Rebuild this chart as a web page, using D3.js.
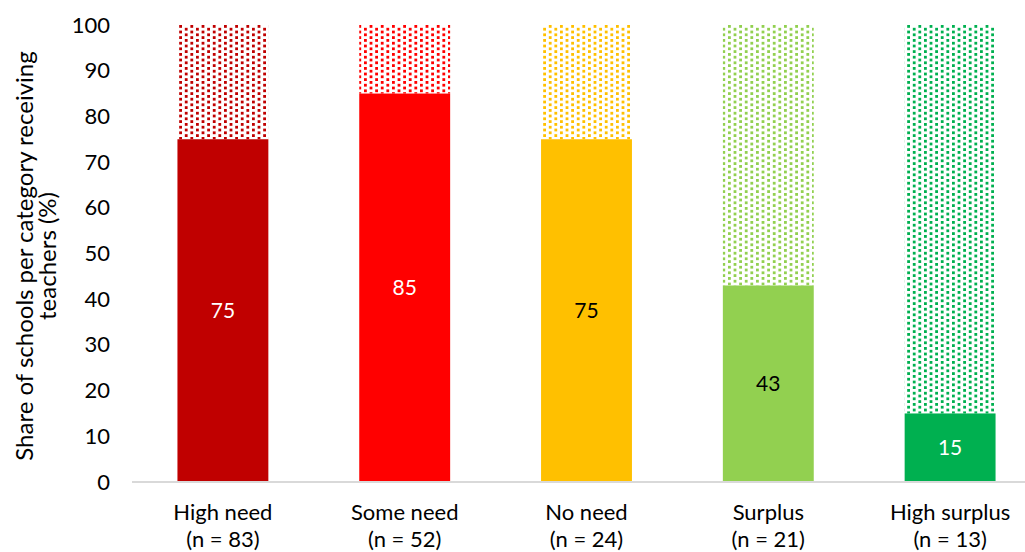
<!DOCTYPE html>
<html><head><meta charset="utf-8">
<script src="https://cdn.jsdelivr.net/npm/d3@7"></script>
<style>body{margin:0;background:#fff}svg{display:block}text{font-family:Lato,"Liberation Sans",sans-serif}</style>
</head><body>
<svg id="chart" width="1025" height="552"></svg>
<script>
const categories = ["High need","Some need","No need","Surplus","High surplus"];
const counts = ["(n = 83)","(n = 52)","(n = 24)","(n = 21)","(n = 13)"];
const values = [75, 85, 75, 43, 15];
const totals = [100, 100, 100, 100, 100];
const colors = ["#C00000","#FF0000","#FFC000","#92D050","#00B050"];
const labelColors = ["#ffffff","#ffffff","#000000","#000000","#ffffff"];
const yTicks = [0,10,20,30,40,50,60,70,80,90,100];

const svg = d3.select("#chart");
const x = d3.scaleBand().domain(categories).range([132, 1041]).paddingInner(0.5).paddingOuter(0.25);
const y = d3.scaleLinear().domain([0, 100]).range([482, 25]);

const defs = svg.append("defs");
colors.forEach((c, i) => {
  const p = defs.append("pattern").attr("id", "pat" + i)
    .attr("patternUnits", "userSpaceOnUse").attr("width", 11.2).attr("height", 5.6)
    .attr("x", 0).attr("y", 25);
  p.append("rect").attr("x", 0).attr("y", 0).attr("width", 2.8).attr("height", 2.8).attr("fill", c);
  p.append("rect").attr("x", 5.6).attr("y", 2.8).attr("width", 2.8).attr("height", 2.8).attr("fill", c);
});

const g = svg.append("g");
g.selectAll("rect.rest").data(categories).join("rect").attr("class","rest")
  .attr("x", d => x(d)).attr("width", x.bandwidth())
  .attr("y", (d,i) => y(totals[i])).attr("height", (d,i) => y(values[i]) - y(totals[i]))
  .attr("fill", (d,i) => `url(#pat${i})`);
g.selectAll("rect.val").data(categories).join("rect").attr("class","val")
  .attr("x", d => x(d)).attr("width", x.bandwidth())
  .attr("y", (d,i) => y(values[i])).attr("height", (d,i) => y(0) - y(values[i]))
  .attr("fill", (d,i) => colors[i]);
g.selectAll("text.val").data(categories).join("text").attr("class","val")
  .attr("x", d => x(d) + x.bandwidth()/2)
  .attr("y", (d,i) => y(values[i]/2)).attr("dy", "0.35em")
  .attr("text-anchor","middle").attr("font-size", 21)
  .attr("fill", (d,i) => labelColors[i]).text((d,i) => values[i]);

const yAxis = d3.axisLeft(y).tickValues(yTicks).tickSize(0).tickPadding(0);
const ya = svg.append("g").attr("transform","translate(110,0)").call(yAxis);
ya.select(".domain").remove();
ya.selectAll("text").attr("font-size", 22).attr("fill","#000").attr("font-family","Lato");

const xAxis = d3.axisBottom(x).tickSize(0).tickFormat("");
const xa = svg.append("g").attr("transform",`translate(0,${y(0)})`).call(xAxis);
xa.select(".domain").attr("stroke","#d9d9d9").attr("stroke-width",2).attr("d", `M132,0H1041`);
const lab = svg.append("g");
categories.forEach((c,i) => {
  const t = lab.append("text").attr("text-anchor","middle").attr("font-size",22).attr("fill","#000")
    .attr("x", x(c) + x.bandwidth()/2);
  t.append("tspan").attr("x", x(c) + x.bandwidth()/2).attr("y", 520).text(c);
  t.append("tspan").attr("x", x(c) + x.bandwidth()/2).attr("y", 547).text(counts[i]);
});

const yt = svg.append("text").attr("transform","translate(0,256) rotate(-90)")
  .attr("text-anchor","middle").attr("font-size",24).attr("fill","#000");
yt.append("tspan").attr("x",0).attr("y",33).text("Share of schools per category receiving");
yt.append("tspan").attr("x",0).attr("y",56).text("teachers (%)");
</script>
</body></html>
